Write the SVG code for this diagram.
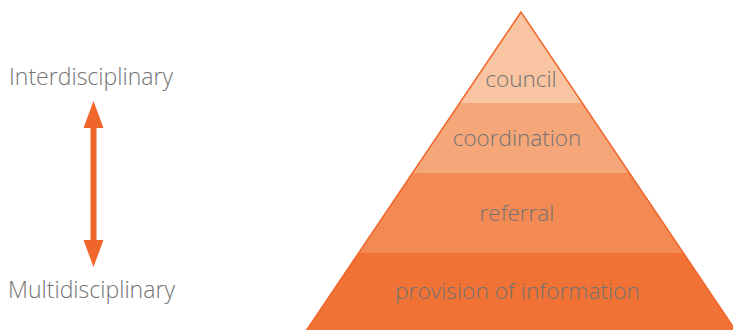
<svg xmlns="http://www.w3.org/2000/svg" width="733" height="330" viewBox="0 0 733 330">
  <style>
    .lbl { font-family: "Open Sans", "Liberation Sans", sans-serif; font-weight: 300; fill: #737373; }
    .side { font-size: 23px; }
    .tier { font-size: 22.5px; text-anchor: middle; }
  </style>
  <defs>
    <clipPath id="tri">
      <polygon points="521,12 306,331 736,331"/>
    </clipPath>
  </defs>
  <rect width="733" height="330" fill="#ffffff"/>

  <g id="label-inter">
    <text class="lbl side" x="9" y="85" textLength="164" lengthAdjust="spacingAndGlyphs">Interdisciplinary</text>
  </g>
  <g id="label-multi">
    <text class="lbl side" x="8" y="298" textLength="167" lengthAdjust="spacingAndGlyphs">Multidisciplinary</text>
  </g>

  <g id="connectors">
    <rect x="90.5" y="126" width="6" height="116" fill="#f0652a"/>
    <polygon points="93.5,101 83.5,128 103.5,128" fill="#f0652a"/>
    <polygon points="93.5,267 83.5,240 103.5,240" fill="#f0652a"/>
  </g>

  <g clip-path="url(#tri)">
    <g id="tier-council">
      <rect x="300" y="0" width="440" height="103" fill="#f9c4a1"/>
      <text class="lbl tier" x="521" y="87">council</text>
    </g>
    <g id="tier-coordination">
      <rect x="300" y="103" width="440" height="70" fill="#f6a77a"/>
      <text class="lbl tier" x="517" y="146">coordination</text>
    </g>
    <g id="tier-referral">
      <rect x="300" y="173" width="440" height="80" fill="#f38a53"/>
      <text class="lbl tier" x="517" y="221">referral</text>
    </g>
    <g id="tier-provision">
      <rect x="300" y="253" width="440" height="80" fill="#f07235"/>
      <text class="lbl tier" x="517.5" y="299" textLength="245" lengthAdjust="spacingAndGlyphs">provision of information</text>
    </g>
  </g>
  <polygon points="521,12 306,331 736,331" fill="none" stroke="#f0652a" stroke-width="1.5"/>
</svg>
